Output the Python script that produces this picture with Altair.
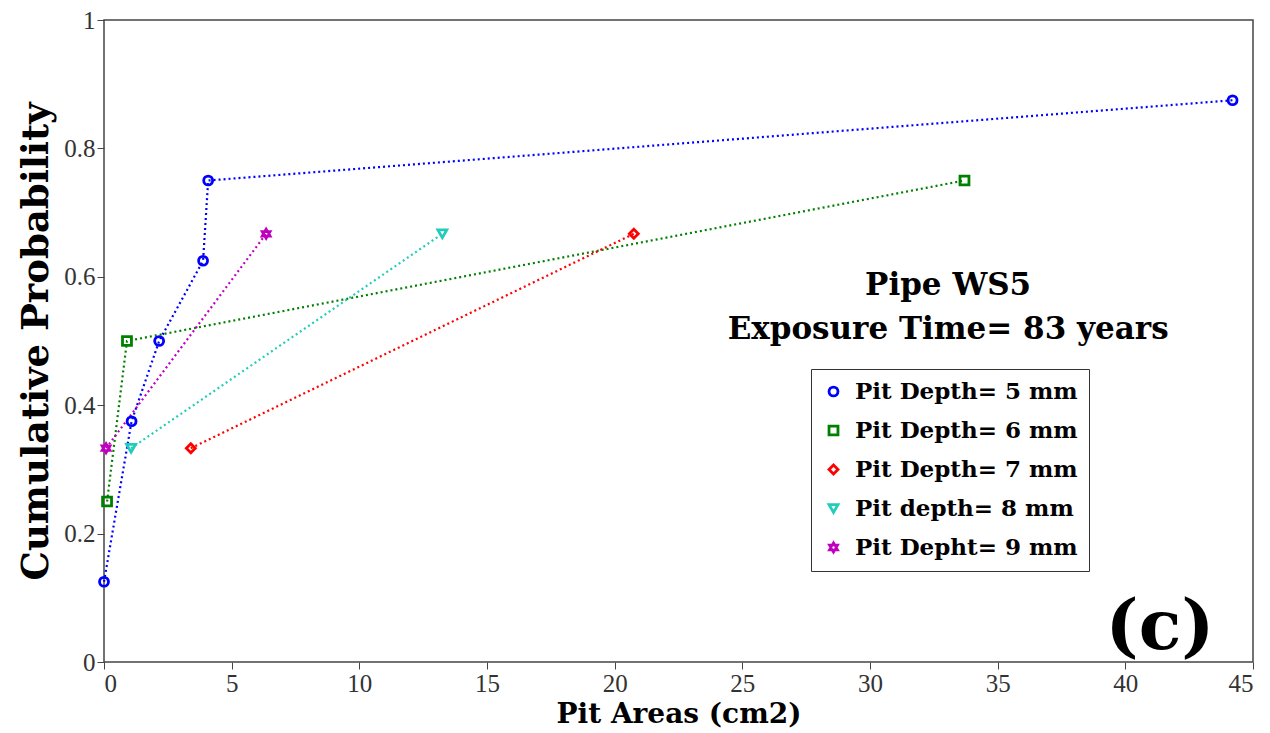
import altair as alt
import pandas as pd

labels = ["Pit Depth= 5 mm", "Pit Depth= 6 mm", "Pit Depth= 7 mm", "Pit depth= 8 mm", "Pit Depht= 9 mm"]
colors = ["#0000ff", "#008000", "#ff0000", "#22ccbb", "#bf00bf"]
star = "M0,-1L0.29,-0.5L0.87,-0.5L0.58,0L0.87,0.5L0.29,0.5L0,1L-0.29,0.5L-0.87,0.5L-0.58,0L-0.87,-0.5L-0.29,-0.5Z"
shapes = ["circle", "square", "diamond", "triangle-down", star]

x5 = [0.0, 1.08, 2.16, 3.88, 4.08, 44.2]
y5 = [0.125, 0.375, 0.5, 0.625, 0.75, 0.875]
x6 = [0.12, 0.9, 33.7]
y6 = [0.25, 0.5, 0.75]
x7 = [3.4, 20.75]
y7 = [0.333, 0.667]
x8 = [1.06, 13.25]
y8 = [0.333, 0.667]
x9 = [0.08, 6.35]
y9 = [0.333, 0.667]

rows = []
for lab, xs, ys in zip(labels, [x5, x6, x7, x8, x9], [y5, y6, y7, y8, y9]):
    for i, (a, b) in enumerate(zip(xs, ys)):
        rows.append({"series": lab, "area": a, "prob": b, "idx": i})
df = pd.DataFrame(rows)

ann_text = ["Pipe WS5", "Exposure Time= 83 years"]
ann_x = [33.06, 33.06]
ann_y = [0.586, 0.517]
ann_df = pd.DataFrame({"t": ann_text, "x": ann_x, "y": ann_y})
tag_df = pd.DataFrame({"t": ["(c)"], "x": [41.36], "y": [0.053]})

xs = alt.Scale(domain=[0, 45], nice=False, zero=False)
ys = alt.Scale(domain=[0, 1], nice=False)
cs = alt.Scale(domain=labels, range=colors)
ss = alt.Scale(domain=labels, range=shapes)

FONT = "Liberation Serif"
BFONT = "DejaVu Serif"

base = alt.Chart(df)
lines = base.mark_line(strokeDash=[2, 3], strokeWidth=2.2).encode(
    x=alt.X("area:Q", scale=xs, axis=alt.Axis(title="Pit Areas (cm2)", values=list(range(0, 46, 5)))),
    y=alt.Y("prob:Q", scale=ys, axis=alt.Axis(title="Cumulative Probability", values=[0, 0.2, 0.4, 0.6, 0.8, 1], format="~g")),
    color=alt.Color("series:N", scale=cs, title=None),
    detail="series:N",
    order="idx:Q",
)
points = base.mark_point(filled=False, strokeWidth=2.8, size=80, opacity=1).encode(
    x=alt.X("area:Q", scale=xs),
    y=alt.Y("prob:Q", scale=ys),
    color=alt.Color("series:N", scale=cs, title=None),
    shape=alt.Shape("series:N", scale=ss, title=None),
)
ann = alt.Chart(ann_df).mark_text(font=BFONT, fontWeight="bold", fontSize=31, color="black", baseline="middle", align="center").encode(
    x=alt.X("x:Q", scale=xs), y=alt.Y("y:Q", scale=ys), text="t:N"
)
tag = alt.Chart(tag_df).mark_text(font=BFONT, fontWeight="bold", fontSize=70, color="black", baseline="middle", align="center").encode(
    x=alt.X("x:Q", scale=xs), y=alt.Y("y:Q", scale=ys), text="t:N"
)

chart = alt.layer(lines, points, ann, tag).properties(
    width=1149, height=642,
    autosize=alt.AutoSizeParams(type="none"),
    padding={"left": 96, "top": 12, "right": 9, "bottom": 71},
    background="white",
).configure_view(
    stroke="#444444", strokeWidth=1.5
).configure_axis(
    domain=False, grid=False, tickColor="#444444", tickSize=7,
    labelFont=FONT, labelFontSize=25, labelColor="#333333", labelPadding=2,
    titleFont=BFONT, titleFontSize=30, titleFontWeight="bold", titleColor="black",
).configure_axisX(titlePadding=4, titleFontSize=28).configure_axisY(titlePadding=8, titleFontSize=37).configure_legend(
    orient="none", legendX=707, legendY=349,
    strokeColor="#333333", fillColor="white", padding=11, rowPadding=15,
    labelFont=BFONT, labelFontSize=23, labelFontWeight="bold", labelColor="black", labelLimit=0,
    symbolSize=80, symbolStrokeWidth=2.8, symbolFillColor="transparent", labelOffset=10,
)

chart.save("out.html", embed_options={"renderer": "svg", "actions": False})
